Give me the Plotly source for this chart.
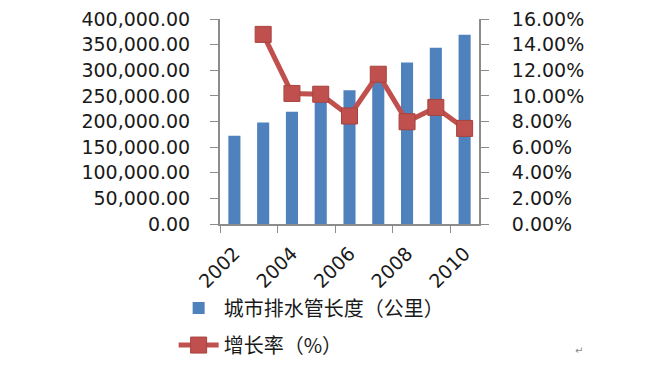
import plotly.graph_objects as go

years = ["2002", "2003", "2004", "2005", "2006", "2007", "2008", "2009", "2010"]
pipe_length_km = [172000, 198000, 219000, 241000, 261000, 292000, 315000, 344000, 369500]
growth_rate = [None, 0.148, 0.1019, 0.1013, 0.0843, 0.1169, 0.0798, 0.0910, 0.0746]

bar_name = "城市排水管长度（公里）"
line_name = "增长率（%）"

num_font = dict(family="DejaVu Sans", size=19, color="#1a1a1a")
cjk_font = dict(family="Noto Sans CJK SC", size=20, color="#1a1a1a")
axis_color = "#8c8c8c"

fig = go.Figure()
fig.add_trace(go.Bar(
    x=years, y=pipe_length_km, name=bar_name,
    marker=dict(color="#4F81BD", line=dict(width=0)),
    width=0.42, legendgroup="a",
))
fig.add_trace(go.Scatter(
    x=years, y=growth_rate, name=line_name, yaxis="y2",
    mode="lines+markers",
    line=dict(color="#C0504D", width=5),
    marker=dict(symbol="square", size=16, color="#C0504D",
                line=dict(color="#A8423F", width=1)),
    legendgroup="b",
))

fig.update_layout(
    width=662, height=372, autosize=False,
    margin=dict(l=212, r=191, t=11, b=156, autoexpand=False),
    paper_bgcolor="white", plot_bgcolor="white",
    showlegend=True,
    legend=dict(
        orientation="v", x=-0.179, xanchor="left", y=-0.315, yanchor="top",
        font=cjk_font, traceorder="grouped", tracegroupgap=8,
        itemwidth=40, bgcolor="rgba(0,0,0,0)",
    ),
    xaxis=dict(
        type="category", range=[-0.5, 8.5], dtick=2, automargin=False,
        tickson="boundaries", ticks="outside", ticklen=7,
        ticklabelstandoff=9, ticklabeloverflow="allow",
        tickcolor=axis_color, tickangle=-45, tickfont=num_font,
        showline=True, linecolor=axis_color, linewidth=2,
        showgrid=False, zeroline=False,
    ),
    yaxis=dict(
        range=[0, 400000], dtick=50000, tickformat=",.2f", automargin=False,
        ticks="outside", ticklen=8, tickcolor=axis_color,
        ticklabelstandoff=16, ticklabeloverflow="allow", tickfont=num_font,
        showline=True, linecolor=axis_color, linewidth=2,
        showgrid=False, zeroline=False,
    ),
    yaxis2=dict(
        overlaying="y", side="right", automargin=False,
        range=[0, 0.16], dtick=0.02, tickformat=".2%",
        ticks="outside", ticklen=8, tickcolor=axis_color,
        ticklabelstandoff=19, ticklabeloverflow="allow", tickfont=num_font,
        showline=True, linecolor=axis_color, linewidth=2,
        showgrid=False, zeroline=False,
    ),
    annotations=[dict(
        text="↵", xref="paper", yref="paper", x=1.409, y=-0.654,
        showarrow=False, font=dict(family="DejaVu Sans", size=10, color="#888888"),
    )],
)

fig.write_html("out.html")
